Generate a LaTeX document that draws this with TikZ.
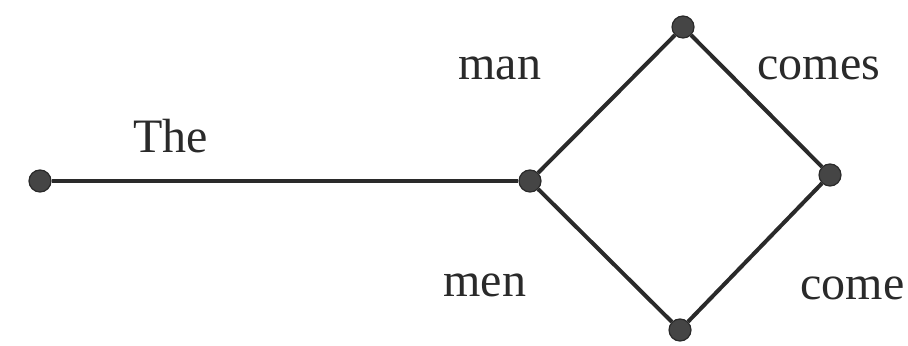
\documentclass[tikz,border=0pt]{standalone}
\usepackage{fontspec}
\setmainfont{Liberation Serif}
\usetikzlibrary{positioning}
\definecolor{ink}{HTML}{2A2A2A}
\definecolor{dotc}{HTML}{454545}

\begin{document}
\begin{tikzpicture}[x=0.5pt,y=-0.5pt,
    vert/.style={circle,fill=dotc,draw=ink,line width=0.6pt,minimum size=11pt,inner sep=0pt},
    arc/.style={ink,line width=2pt},
    word/.style={font=\fontsize{24}{28}\selectfont,text=ink,anchor=base west,inner sep=0pt}]
  \useasboundingbox (0,0) rectangle (908,346);
  % lattice vertices
  \node[vert] (v0) at (40,181) {};
  \node[vert] (v1) at (530,181) {};
  \node[vert] (v2) at (683,27) {};
  \node[vert] (v3) at (830,175) {};
  \node[vert] (v4) at (680,330) {};
  \draw[arc] (v0) -- (v1);
  \draw[arc] (v1) -- (v2);
  \draw[arc] (v2) -- (v3);
  \draw[arc] (v1) -- (v4);
  \draw[arc] (v4) -- (v3);
  % word labels
  \node[word] (the) at (133,153) {The};
  \node[word] (man) at (458,80) {man};
  \node[word] (comes) at (757,80) {comes};
  \node[word] (men) at (443,297) {men};
  \node[word] (come) at (800,300) {come};
\end{tikzpicture}
\end{document}
